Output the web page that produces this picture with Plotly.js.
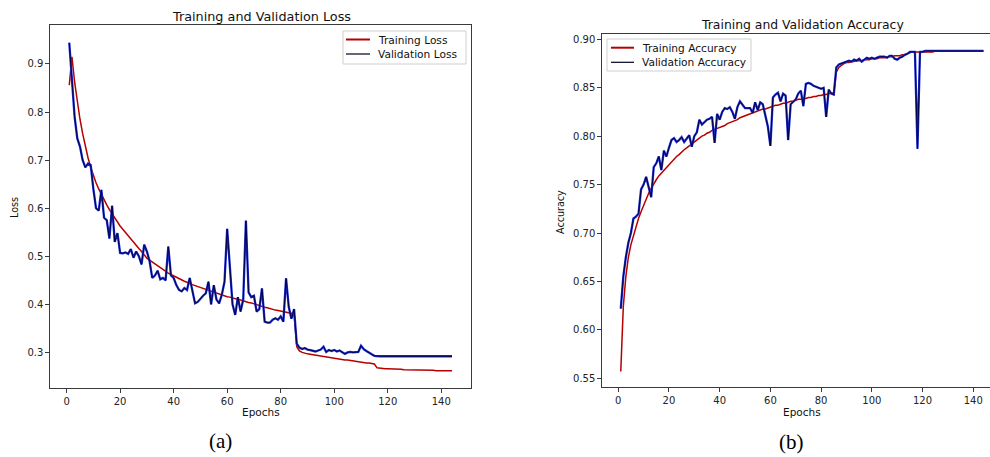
<!DOCTYPE html>
<html>
<head>
<meta charset="utf-8">
<script src="https://cdn.plot.ly/plotly-3.0.1.min.js"></script>
<style>html,body{margin:0;padding:0;background:#fff;}#chart{width:990px;height:457px;}</style>
</head>
<body>
<div id="chart"></div>
<script>
// ---- data ----
const epochs = Array.from({length: 144}, (_, i) => i + 1);

const trainLoss = [
  0.856, 0.915, 0.862, 0.820, 0.785, 0.755, 0.728, 0.705, 0.685, 0.668,
  0.653, 0.640, 0.628, 0.617, 0.607, 0.597, 0.588, 0.579, 0.571, 0.563,
  0.556, 0.549, 0.542, 0.535, 0.528, 0.522, 0.516, 0.510, 0.503, 0.496,
  0.492, 0.488, 0.484, 0.480, 0.476, 0.472, 0.468, 0.465, 0.462, 0.459,
  0.456, 0.453, 0.450, 0.448, 0.446, 0.443, 0.441, 0.439, 0.437, 0.435,
  0.433, 0.431, 0.429, 0.427, 0.425, 0.423, 0.421, 0.420, 0.418, 0.416,
  0.415, 0.413, 0.412, 0.410, 0.409, 0.407, 0.406, 0.404, 0.403, 0.401,
  0.399, 0.397, 0.396, 0.394, 0.393, 0.391, 0.390, 0.388, 0.387, 0.386,
  0.384, 0.383, 0.382, 0.381, 0.380, 0.312, 0.303, 0.300, 0.298, 0.297,
  0.296, 0.295, 0.294, 0.293, 0.292, 0.291, 0.290, 0.289, 0.288, 0.287,
  0.287, 0.286, 0.285, 0.284, 0.284, 0.283, 0.282, 0.281, 0.281, 0.280,
  0.279, 0.278, 0.278, 0.277, 0.276, 0.268, 0.267, 0.267, 0.266, 0.266,
  0.266, 0.265, 0.265, 0.265, 0.265, 0.264, 0.264, 0.264, 0.264, 0.263,
  0.263, 0.263, 0.263, 0.263, 0.263, 0.263, 0.263, 0.262, 0.262, 0.262,
  0.262, 0.262, 0.262, 0.262
];

const valLoss = [
  0.944, 0.860, 0.790, 0.745, 0.728, 0.700, 0.685, 0.693, 0.690, 0.640,
  0.600, 0.595, 0.638, 0.580, 0.575, 0.537, 0.605, 0.530, 0.548, 0.507,
  0.506, 0.508, 0.505, 0.515, 0.497, 0.510, 0.500, 0.483, 0.524, 0.510,
  0.490, 0.455, 0.460, 0.470, 0.452, 0.455, 0.450, 0.520, 0.460, 0.455,
  0.440, 0.430, 0.427, 0.434, 0.430, 0.455, 0.430, 0.402, 0.405, 0.412,
  0.418, 0.423, 0.447, 0.400, 0.440, 0.410, 0.402, 0.420, 0.447, 0.557,
  0.470, 0.400, 0.378, 0.415, 0.385, 0.410, 0.574, 0.425, 0.415, 0.418,
  0.385, 0.390, 0.433, 0.364, 0.362, 0.362, 0.368, 0.371, 0.368, 0.375,
  0.364, 0.454, 0.395, 0.370, 0.390, 0.318, 0.310, 0.307, 0.309, 0.306,
  0.305, 0.304, 0.302, 0.304, 0.306, 0.312, 0.301, 0.305, 0.303, 0.305,
  0.302, 0.304, 0.301, 0.297, 0.300, 0.301, 0.300, 0.300, 0.301, 0.314,
  0.307, 0.303, 0.299, 0.296, 0.293, 0.292, 0.292, 0.292, 0.292, 0.292,
  0.292, 0.292, 0.292, 0.292, 0.292, 0.292, 0.292, 0.292, 0.292, 0.292,
  0.292, 0.292, 0.292, 0.292, 0.292, 0.292, 0.292, 0.292, 0.292, 0.292,
  0.292, 0.292, 0.292, 0.292
];

const trainAcc = [
  0.557, 0.624, 0.655, 0.675, 0.688, 0.698, 0.707, 0.715, 0.722, 0.729,
  0.735, 0.741, 0.746, 0.751, 0.755, 0.759, 0.762, 0.765, 0.768, 0.771,
  0.774, 0.776, 0.779, 0.781, 0.784, 0.786, 0.788, 0.790, 0.792, 0.794,
  0.796, 0.798, 0.800, 0.801, 0.803, 0.804, 0.806, 0.807, 0.808, 0.809,
  0.810, 0.811, 0.813, 0.814, 0.815, 0.816, 0.817, 0.819, 0.820, 0.821,
  0.822, 0.823, 0.824, 0.825, 0.826, 0.827, 0.828, 0.828, 0.829, 0.830,
  0.831, 0.832, 0.832, 0.833, 0.834, 0.834, 0.835, 0.836, 0.836, 0.837,
  0.838, 0.838, 0.839, 0.839, 0.840, 0.840, 0.841, 0.841, 0.842, 0.842,
  0.843, 0.843, 0.844, 0.844, 0.845, 0.866, 0.871, 0.873, 0.875, 0.876,
  0.876, 0.877, 0.877, 0.878, 0.878, 0.878, 0.879, 0.879, 0.879, 0.880,
  0.880, 0.880, 0.881, 0.881, 0.881, 0.882, 0.882, 0.882, 0.883, 0.883,
  0.883, 0.884, 0.884, 0.885, 0.886, 0.887, 0.887, 0.887, 0.887, 0.887,
  0.887, 0.887, 0.887, 0.887, 0.888, 0.888, 0.888, 0.888, 0.888, 0.888,
  0.888, 0.888, 0.888, 0.888, 0.888, 0.888, 0.888, 0.888, 0.888, 0.888,
  0.888, 0.888, 0.888, 0.888
];

const valAcc = [
  0.622, 0.655, 0.675, 0.690, 0.700, 0.715, 0.717, 0.720, 0.745, 0.750,
  0.758, 0.748, 0.737, 0.768, 0.772, 0.779, 0.765, 0.785, 0.779, 0.788,
  0.796, 0.798, 0.794, 0.796, 0.799, 0.794, 0.797, 0.801, 0.789, 0.800,
  0.804, 0.817, 0.812, 0.815, 0.817, 0.818, 0.820, 0.793, 0.823, 0.817,
  0.825, 0.829, 0.828, 0.830, 0.825, 0.818, 0.830, 0.836, 0.832, 0.829,
  0.829, 0.829, 0.824, 0.835, 0.827, 0.835, 0.833, 0.822, 0.810, 0.790,
  0.840, 0.843, 0.845, 0.836, 0.844, 0.842, 0.796, 0.833, 0.836, 0.838,
  0.844, 0.847, 0.831, 0.854, 0.855, 0.854, 0.852, 0.851, 0.850, 0.849,
  0.850, 0.820, 0.848, 0.844, 0.843, 0.871, 0.874, 0.875, 0.876, 0.877,
  0.878, 0.877, 0.879, 0.878, 0.880, 0.877, 0.879, 0.881, 0.880, 0.881,
  0.880, 0.881, 0.882, 0.882, 0.882, 0.881, 0.883, 0.883, 0.880, 0.879,
  0.881, 0.882, 0.884, 0.885, 0.887, 0.887, 0.887, 0.787, 0.887, 0.887,
  0.888, 0.888, 0.888, 0.888, 0.888, 0.888, 0.888, 0.888, 0.888, 0.888,
  0.888, 0.888, 0.888, 0.888, 0.888, 0.888, 0.888, 0.888, 0.888, 0.888,
  0.888, 0.888, 0.888, 0.888
];

const lossTicks = [0.3, 0.4, 0.5, 0.6, 0.7, 0.8, 0.9];
const accTicks = [0.55, 0.60, 0.65, 0.70, 0.75, 0.80, 0.85, 0.90];
const epochTicks = [0, 20, 40, 60, 80, 100, 120, 140];
const lossNames = ['Training Loss', 'Validation Loss'];
const accNames = ['Training Accuracy', 'Validation Accuracy'];

// ---- styling ----
const W = 990, H = 457;
const px = x => x / W;
const py = y => 1 - y / H;
const FONT = 'DejaVu Sans';
const RED = '#b50000';
const BLUE = '#1f2fd0';
const NAVY = '#00004a';

function axisBase(extra) {
  return Object.assign({
    showgrid: false, zeroline: false, showline: true, linecolor: '#3a3a3a', linewidth: 1.2,
    ticks: 'outside', ticklen: 3.5, tickwidth: 1, tickcolor: '#3a3a3a',
    tickfont: {family: FONT, size: 10, color: '#222'}, fixedrange: true
  }, extra);
}

const traces = [
  {x: epochs, y: trainLoss, xaxis: 'x', yaxis: 'y', type: 'scatter', mode: 'lines',
   name: lossNames[0], line: {color: RED, width: 1.5}},
  {x: epochs, y: valLoss, xaxis: 'x', yaxis: 'y', type: 'scatter', mode: 'lines',
   name: lossNames[1], line: {color: BLUE, width: 2.3}},
  {x: epochs, y: valLoss, xaxis: 'x', yaxis: 'y', type: 'scatter', mode: 'lines',
   name: lossNames[1], line: {color: NAVY, width: 1}},
  {x: epochs, y: trainAcc, xaxis: 'x2', yaxis: 'y2', type: 'scatter', mode: 'lines',
   name: accNames[0], line: {color: RED, width: 1.5}},
  {x: epochs, y: valAcc, xaxis: 'x2', yaxis: 'y2', type: 'scatter', mode: 'lines',
   name: accNames[1], line: {color: BLUE, width: 2.3}},
  {x: epochs, y: valAcc, xaxis: 'x2', yaxis: 'y2', type: 'scatter', mode: 'lines',
   name: accNames[1], line: {color: NAVY, width: 1}}
];

// compact matplotlib-style legend boxes (pixel geometry of the reference)
function legendBox(x0, y0, x1, y1, lineX0, lineX1, textX, rowY, names) {
  const shapes = [
    {type: 'rect', xref: 'paper', yref: 'paper', x0: px(x0), x1: px(x1), y0: py(y1), y1: py(y0),
     line: {color: '#cfcfcf', width: 1}, fillcolor: 'rgba(255,255,255,0.9)', layer: 'above'},
    {type: 'line', xref: 'paper', yref: 'paper', x0: px(lineX0), x1: px(lineX1), y0: py(rowY[0]), y1: py(rowY[0]),
     line: {color: RED, width: 2}, layer: 'above'},
    {type: 'line', xref: 'paper', yref: 'paper', x0: px(lineX0), x1: px(lineX1), y0: py(rowY[1]), y1: py(rowY[1]),
     line: {color: '#000020', width: 1.2}, layer: 'above'}
  ];
  const anns = names.map((n, i) => ({
    text: n, x: px(textX), y: py(rowY[i]), xref: 'paper', yref: 'paper', showarrow: false,
    xanchor: 'left', yanchor: 'middle', font: {family: FONT, size: 10.6, color: '#111'}
  }));
  return {shapes, anns};
}
const lg1 = legendBox(343, 31, 466, 64, 346, 370, 376, [39.5, 54], lossNames);
const lg2 = legendBox(607, 39, 751, 71, 611, 634, 640, [47.7, 62.3], accNames);

const layout = {
  width: W, height: H,
  margin: {l: 0, r: 0, t: 0, b: 0},
  paper_bgcolor: '#fff', plot_bgcolor: '#fff',
  showlegend: false,
  xaxis: axisBase({domain: [px(50), px(471)], range: [-6.2, 151.1], anchor: 'y',
    tickvals: epochTicks, mirror: true}),
  yaxis: axisBase({domain: [py(388), py(25)], range: [0.226, 0.981], anchor: 'x',
    tickvals: lossTicks, tickformat: '.1f', mirror: true}),
  xaxis2: axisBase({domain: [px(602), 1], range: [-6.4, 146.6], anchor: 'y2',
    tickvals: epochTicks, mirror: true}),
  yaxis2: axisBase({domain: [py(387), py(34)], range: [0.541, 0.9055], anchor: 'x2',
    tickvals: accTicks, tickformat: '.2f', mirror: false}),
  shapes: lg1.shapes.concat(lg2.shapes),
  annotations: [
    {text: 'Training and Validation Loss', x: px(261), y: py(16), xref: 'paper', yref: 'paper',
     showarrow: false, xanchor: 'center', yanchor: 'middle', font: {family: FONT, size: 12.8, color: '#111'}},
    {text: 'Training and Validation Accuracy', x: px(802), y: py(24.5), xref: 'paper', yref: 'paper',
     showarrow: false, xanchor: 'center', yanchor: 'middle', font: {family: FONT, size: 12.4, color: '#111'}},
    {text: 'Epochs', x: px(261), y: py(412), xref: 'paper', yref: 'paper',
     showarrow: false, xanchor: 'center', yanchor: 'middle', font: {family: FONT, size: 10.5, color: '#111'}},
    {text: 'Epochs', x: px(802), y: py(411.5), xref: 'paper', yref: 'paper',
     showarrow: false, xanchor: 'center', yanchor: 'middle', font: {family: FONT, size: 10.5, color: '#111'}},
    {text: 'Loss', x: px(14), y: py(208), xref: 'paper', yref: 'paper', textangle: -90,
     showarrow: false, xanchor: 'center', yanchor: 'middle', font: {family: FONT, size: 9.6, color: '#111'}},
    {text: 'Accuracy', x: px(560), y: py(212), xref: 'paper', yref: 'paper', textangle: -90,
     showarrow: false, xanchor: 'center', yanchor: 'middle', font: {family: FONT, size: 9.6, color: '#111'}},
    {text: '(a)', x: px(220), y: py(441), xref: 'paper', yref: 'paper',
     showarrow: false, xanchor: 'center', yanchor: 'middle', font: {family: 'Liberation Serif', size: 21, color: '#000'}},
    {text: '(b)', x: px(791), y: py(442), xref: 'paper', yref: 'paper',
     showarrow: false, xanchor: 'center', yanchor: 'middle', font: {family: 'Liberation Serif', size: 21, color: '#000'}}
  ].concat(lg1.anns, lg2.anns)
};

Plotly.newPlot('chart', traces, layout, {staticPlot: true, displayModeBar: false});
</script>
</body>
</html>
